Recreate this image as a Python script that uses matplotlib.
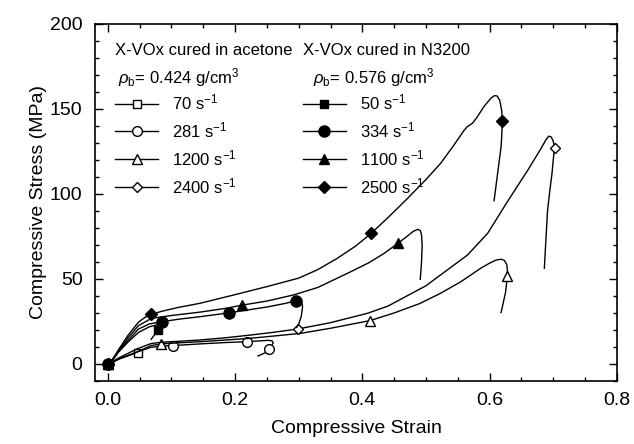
import numpy as np
import matplotlib.pyplot as plt
from matplotlib.ticker import MultipleLocator

plt.rcParams['font.family'] = ['Liberation Sans', 'DejaVu Sans']
plt.rcParams['mathtext.fontset'] = 'custom'
plt.rcParams['mathtext.rm'] = 'Liberation Sans'
plt.rcParams['mathtext.it'] = 'Liberation Sans:italic'

# X-VOx cured in acetone (open markers)
s70_x = [0, 0.01, 0.02, 0.035, 0.047, 0.052]
s70_y = [0, 1.5, 3.2, 5.3, 6.7, 7.1]
s70_mk = [0, 4]

s281_x = [0, 0.008, 0.017, 0.032, 0.048, 0.068, 0.085, 0.102, 0.145, 0.185, 0.219,
          0.24, 0.252, 0.258, 0.260, 0.258, 0.254, 0.247, 0.236]
s281_y = [0, 1.3, 3.0, 5.0, 7.3, 9.8, 10.5, 10.8, 11.8, 12.6, 13.1,
          13.6, 13.9, 13.6, 12.6, 10.8, 8.6, 6.5, 4.7]
s281_mk = [0, 7, 10, 16]

s1200_x = [0, 0.008, 0.017, 0.032, 0.048, 0.068, 0.084, 0.11, 0.145, 0.185, 0.224,
           0.26, 0.303, 0.35, 0.412, 0.45, 0.49, 0.523, 0.555, 0.586, 0.60, 0.61,
           0.618, 0.623, 0.627, 0.628, 0.628, 0.625, 0.618]
s1200_y = [0, 1.3, 3.0, 4.9, 7.4, 10.8, 11.8, 12.4, 13.1, 14.1, 15.1,
           16.4, 18.0, 21.0, 25.5, 30.0, 35.5, 41.6, 48.4, 56.3, 59.3, 61.1,
           61.6, 61.0, 58.5, 55.0, 51.8, 42.0, 30.2]
s1200_mk = [0, 6, 14, 26]

s2400_x = [0, 0.008, 0.017, 0.032, 0.048, 0.068, 0.085, 0.11, 0.145, 0.185, 0.224,
           0.26, 0.299, 0.35, 0.408, 0.44, 0.47, 0.50, 0.523, 0.565, 0.597, 0.628,
           0.66, 0.681, 0.689, 0.693, 0.697, 0.700, 0.702, 0.701, 0.698, 0.694,
           0.691, 0.688, 0.686]
s2400_y = [0, 1.5, 3.5, 6.3, 9.2, 12.0, 12.8, 13.3, 14.1, 15.4, 17.0,
           18.6, 20.6, 24.3, 29.8, 34.0, 40.0, 46.0, 52.4, 64.0, 76.9, 95.5,
           114.0, 126.9, 132.2, 134.0, 133.5, 131.0, 127.2, 124.0, 112.0, 100.0,
           90.0, 70.0, 56.3]
s2400_mk = [0, 12, 28]

# X-VOx cured in N3200 (filled markers)
s50_x = [0, 0.008, 0.017, 0.032, 0.048, 0.065, 0.08, 0.087, 0.088, 0.084, 0.079, 0.068]
s50_y = [0, 2.5, 7.0, 13.0, 18.5, 21.8, 23.3, 23.5, 22.8, 21.3, 20.0, 14.5]
s50_mk = [0, 10]

s334_x = [0, 0.008, 0.017, 0.032, 0.048, 0.065, 0.085, 0.115, 0.145, 0.191, 0.25,
          0.28, 0.295, 0.301, 0.305, 0.306, 0.304, 0.300, 0.297]
s334_y = [0, 2.8, 7.5, 14.0, 20.5, 23.5, 24.9, 26.5, 27.8, 30.1, 33.5,
          35.7, 37.2, 37.3, 36.0, 33.7, 28.0, 23.5, 21.5]
s334_mk = [0, 6, 9, 12]

s1100_x = [0, 0.008, 0.017, 0.032, 0.048, 0.069, 0.10, 0.145, 0.185, 0.211, 0.25,
           0.292, 0.33, 0.382, 0.41, 0.434, 0.456, 0.47, 0.48, 0.487, 0.491,
           0.493, 0.494, 0.493, 0.491]
s1100_y = [0, 3.0, 8.0, 15.5, 22.5, 26.9, 28.5, 30.5, 32.7, 34.6, 37.0,
           40.6, 45.0, 54.3, 59.5, 65.0, 71.0, 75.0, 78.0, 79.2, 78.5,
           76.0, 70.0, 60.0, 49.8]
s1100_mk = [0, 9, 16]

s2500_x = [0, 0.008, 0.017, 0.032, 0.048, 0.058, 0.068, 0.085, 0.11, 0.145, 0.198,
           0.25, 0.30, 0.33, 0.36, 0.39, 0.414, 0.44, 0.47, 0.50, 0.523, 0.544, 0.56,
           0.565, 0.573, 0.58, 0.591, 0.602, 0.608, 0.612, 0.616, 0.619, 0.620,
           0.619, 0.618, 0.607]
s2500_y = [0, 3.0, 8.5, 17.0, 24.5, 27.3, 29.2, 31.0, 33.2, 35.7, 40.6,
           45.5, 50.5, 55.5, 62.0, 69.5, 76.9, 86.0, 97.0, 108.5, 118.0, 128.8, 137.5,
           139.6, 141.6, 145.0, 151.4, 156.3, 157.9, 157.6, 155.0, 149.0, 142.8,
           134.0, 127.8, 96.0]
s2500_mk = [0, 6, 16, 32]

fig = plt.figure(figsize=(6.34, 4.44), dpi=100)
ax = fig.add_axes([0.15, 0.142, 0.823, 0.804])

lw = 1.0
acetone = [
    ax.plot(s70_x, s70_y, color='black', lw=lw, marker='s', ms=6, mfc='white', markevery=s70_mk)[0],
    ax.plot(s281_x, s281_y, color='black', lw=lw, marker='o', ms=7, mfc='white', markevery=s281_mk)[0],
    ax.plot(s1200_x, s1200_y, color='black', lw=lw, marker='^', ms=7, mfc='white', markevery=s1200_mk)[0],
    ax.plot(s2400_x, s2400_y, color='black', lw=lw, marker='D', ms=5.5, mfc='white', markevery=s2400_mk)[0],
]
n3200 = [
    ax.plot(s50_x, s50_y, color='black', lw=lw, marker='s', ms=6, markevery=s50_mk)[0],
    ax.plot(s334_x, s334_y, color='black', lw=lw, marker='o', ms=8, markevery=s334_mk)[0],
    ax.plot(s1100_x, s1100_y, color='black', lw=lw, marker='^', ms=7, markevery=s1100_mk)[0],
    ax.plot(s2500_x, s2500_y, color='black', lw=lw, marker='D', ms=6, markevery=s2500_mk)[0],
]

lab1 = ['70 s$^{-1}$', '281 s$^{-1}$', '1200 s$^{-1}$', '2400 s$^{-1}$']
lab2 = ['50 s$^{-1}$', '334 s$^{-1}$', '1100 s$^{-1}$', '2500 s$^{-1}$']

legkw = dict(loc='upper left', frameon=False, fontsize=12, numpoints=1,
             handlelength=2.6, handletextpad=0.85, labelspacing=0.48,
             borderpad=0, borderaxespad=0)
leg1 = ax.legend(acetone, lab1, bbox_to_anchor=(0.038, 0.808), **legkw)
ax.add_artist(leg1)
ax.legend(n3200, lab2, bbox_to_anchor=(0.398, 0.808), **legkw)

ax.text(0.038, 0.927, 'X-VOx cured in acetone', transform=ax.transAxes,
        fontsize=12, va='center', ha='left')
ax.text(0.044, 0.849, r'$\rho_{\mathrm{b}}$= 0.424 g/cm$^3$', transform=ax.transAxes,
        fontsize=12, va='center', ha='left')
ax.text(0.398, 0.927, 'X-VOx cured in N3200', transform=ax.transAxes,
        fontsize=12, va='center', ha='left')
ax.text(0.417, 0.849, r'$\rho_{\mathrm{b}}$= 0.576 g/cm$^3$', transform=ax.transAxes,
        fontsize=12, va='center', ha='left')

ax.set_xlim(-0.02, 0.8)
ax.set_ylim(-10, 200)
ax.xaxis.set_major_locator(MultipleLocator(0.2))
ax.xaxis.set_minor_locator(MultipleLocator(0.05))
ax.yaxis.set_major_locator(MultipleLocator(50))
ax.yaxis.set_minor_locator(MultipleLocator(10))
ax.tick_params(which='both', direction='in', top=True, right=True, labelsize=14, width=1.0)
ax.tick_params(which='major', length=6)
ax.tick_params(which='minor', length=3)
ax.tick_params(axis='y', pad=9)
ax.tick_params(axis='x', pad=8)
ax.set_xticks([0.0, 0.2, 0.4, 0.6, 0.8])
ax.set_xticklabels(['0.0', '0.2', '0.4', '0.6', '0.8'])
for sp in ax.spines.values():
    sp.set_linewidth(1.2)

ax.set_xlabel('Compressive Strain', fontsize=14, labelpad=8)
ax.set_ylabel('Compressive Stress (MPa)', fontsize=14, labelpad=2)

fig.savefig('out.png', dpi=100)
